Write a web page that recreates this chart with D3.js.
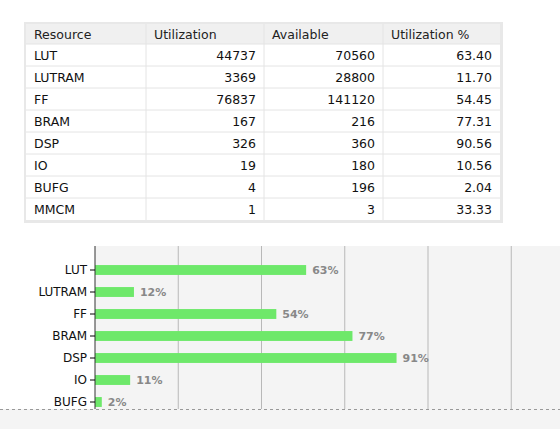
<!DOCTYPE html><html><head><meta charset="utf-8">
<script src="https://cdn.jsdelivr.net/npm/d3@7"></script>
<style>body{margin:0;background:#fff;font-family:"DejaVu Sans",sans-serif}</style></head><body>
<svg id="c" width="560" height="429" style="display:block"></svg>
<script>
const resources=["LUT","LUTRAM","FF","BRAM","DSP","IO","BUFG","MMCM"];
const utilization=[44737,3369,76837,167,326,19,4,1];
const available=[70560,28800,141120,216,360,180,196,3];
const utilPct=["63.40","11.70","54.45","77.31","90.56","10.56","2.04","33.33"];
const headers=["Resource","Utilization","Available","Utilization %"];
const xTicks=[25,50,75,100,125];

const svg=d3.select("#c");
const colX=[26,146,264,383,500];
const rowH=22, tTop=24;
svg.append("rect").attr("x",24).attr("y",22).attr("width",479).attr("height",201).attr("fill","#e8e8e8");
svg.append("rect").attr("x",26).attr("y",tTop).attr("width",474).attr("height",rowH*9-2).attr("fill","#fff");
svg.append("rect").attr("x",26).attr("y",tTop).attr("width",474).attr("height",20).attr("fill","#f0f0f0");
for(let i=1;i<4;i++)svg.append("line").attr("x1",colX[i]).attr("x2",colX[i]).attr("y1",tTop).attr("y2",tTop+rowH*9-2).attr("stroke","#e4e4e4");
for(let r=1;r<9;r++)svg.append("line").attr("x1",26).attr("x2",500).attr("y1",tTop+20+(r-1)*rowH).attr("y2",tTop+20+(r-1)*rowH).attr("stroke","#e4e4e4");
headers.forEach((h,i)=>svg.append("text").attr("x",colX[i]+8).attr("y",tTop+15).attr("font-size",12.5).attr("fill","#222").text(h));
resources.forEach((r,i)=>{
  const yy=tTop+20+i*rowH+16;
  const row=[r,utilization[i],available[i],utilPct[i]];
  row.forEach((v,j)=>{
    const t=svg.append("text").attr("y",yy).attr("font-size",12.5).attr("fill","#111").text(v);
    if(j==0)t.attr("x",colX[0]+8);else t.attr("x",colX[j+1]-8).attr("text-anchor","end");
  });
});
const x0=95;
const x=d3.scaleLinear().domain([0,100]).range([x0,x0+333]);
const y=d3.scaleBand().domain(resources).range([259,435]).paddingInner(0.55).paddingOuter(0.275);
const pct=utilization.map((u,i)=>u/available[i]*100);
const g=svg.append("g");
g.append("rect").attr("x",x0).attr("y",246).attr("width",560-x0).attr("height",190).attr("fill","#f4f4f4");
xTicks.forEach(t=>g.append("line").attr("x1",x(t)).attr("x2",x(t)).attr("y1",246).attr("y2",409).attr("stroke","#b8b8b8"));
g.selectAll(".bar").data(resources).join("rect").attr("x",x0).attr("y",d=>y(d)).attr("height",y.bandwidth()).attr("width",(d,i)=>x(pct[i])-x0).attr("fill","#6ee86a");
g.selectAll(".lbl").data(resources).join("text").attr("x",(d,i)=>x(pct[i])+6).attr("y",d=>y(d)+y.bandwidth()/2+4).attr("font-size",11).attr("font-weight","bold").attr("fill","#888").text((d,i)=>Math.round(pct[i])+"%");
const ax=g.append("g").attr("transform",`translate(${x0},0)`).call(d3.axisLeft(y).tickSize(5).tickSizeOuter(0));
ax.select(".domain").attr("d","M0,246V410").attr("stroke","#333");
ax.selectAll("text").attr("font-size",12).attr("fill","#111").attr("font-family","DejaVu Sans");
svg.append("rect").attr("x",0).attr("y",409).attr("width",560).attr("height",20).attr("fill","#f4f4f4");
svg.append("line").attr("x1",0).attr("x2",560).attr("y1",409.5).attr("y2",409.5).attr("stroke","#999").attr("stroke-dasharray","3,3");
</script></body></html>
